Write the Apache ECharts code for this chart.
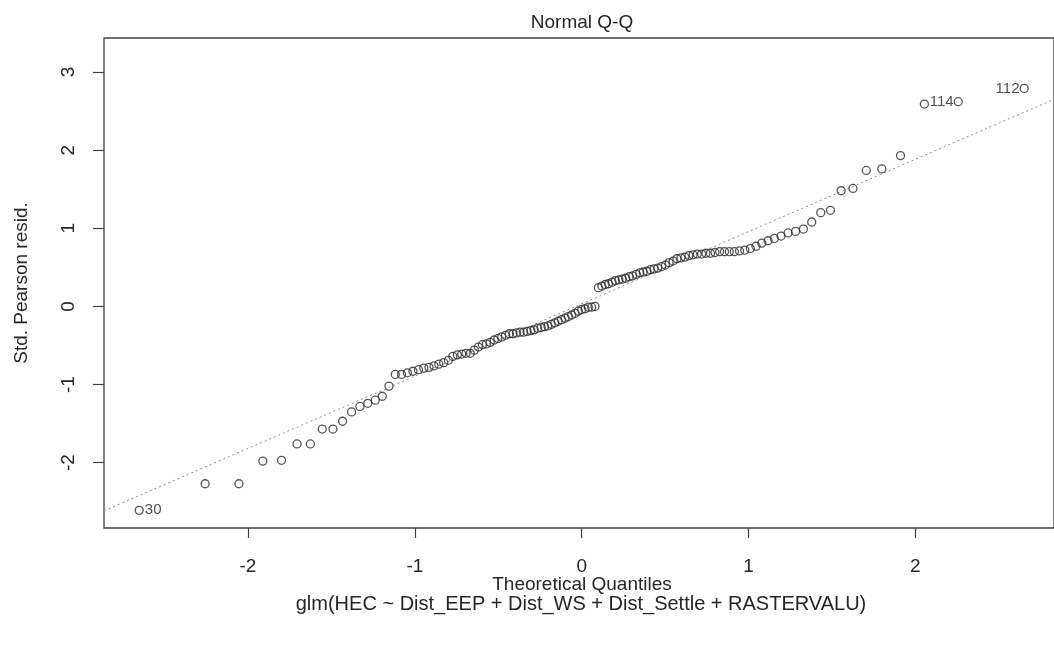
<!DOCTYPE html>
<html>
<head>
<meta charset="utf-8">
<script src="https://cdn.jsdelivr.net/npm/echarts@6/dist/echarts.min.js"></script>
<style>html,body{margin:0;padding:0;background:#fff;}#c{width:1054px;height:654px;}</style>
</head>
<body>
<div id="c"></div>
<script>
// Theoretical quantiles (x) of the 125 observations
const theoQuantiles = [
 -2.652,-2.257,-2.054,-1.911,-1.799,-1.706,-1.626,-1.555,-1.491,-1.433,
 -1.379,-1.329,-1.282,-1.237,-1.195,-1.155,-1.117,-1.080,-1.045,-1.011,
 -0.978,-0.946,-0.915,-0.885,-0.856,-0.827,-0.799,-0.772,-0.745,-0.719,
 -0.693,-0.668,-0.643,-0.619,-0.595,-0.571,-0.548,-0.524,-0.502,-0.479,
 -0.456,-0.434,-0.412,-0.391,-0.369,-0.348,-0.327,-0.305,-0.285,-0.264,
 -0.243,-0.223,-0.202,-0.182,-0.161,-0.141,-0.121,-0.100,-0.080,-0.060,
 -0.040,-0.020,0.000,
 0.020,0.040,0.060,0.080,0.100,0.121,0.141,0.161,0.182,0.202,
 0.223,0.243,0.264,0.285,0.305,0.327,0.348,0.369,0.391,0.412,
 0.434,0.456,0.479,0.502,0.524,0.548,0.571,0.595,0.619,0.643,
 0.668,0.693,0.719,0.745,0.772,0.799,0.827,0.856,0.885,0.915,
 0.946,0.978,1.011,1.045,1.080,1.117,1.155,1.195,1.237,1.282,
 1.329,1.379,1.433,1.491,1.555,1.626,1.706,1.799,1.911,2.054,
 2.257,2.652
];
// Sorted standardized Pearson residuals (y)
const stdPearsonResid = [
 -2.61,-2.27,-2.27,-1.98,-1.97,-1.76,-1.76,-1.57,-1.57,-1.47,
 -1.35,-1.28,-1.24,-1.20,-1.15,-1.02,-0.87,-0.87,-0.85,-0.83,
 -0.81,-0.79,-0.78,-0.76,-0.74,-0.72,-0.69,-0.64,-0.62,-0.61,
 -0.60,-0.60,-0.56,-0.52,-0.49,-0.48,-0.46,-0.43,-0.41,-0.39,
 -0.37,-0.35,-0.35,-0.34,-0.33,-0.33,-0.32,-0.31,-0.30,-0.28,
 -0.27,-0.26,-0.25,-0.23,-0.21,-0.19,-0.17,-0.15,-0.13,-0.11,
 -0.09,-0.06,-0.04,
 -0.03,-0.01,-0.01,0.00,0.24,0.26,0.28,0.29,0.31,0.33,
 0.34,0.35,0.36,0.38,0.39,0.41,0.43,0.44,0.45,0.47,
 0.48,0.49,0.51,0.53,0.56,0.58,0.61,0.62,0.63,0.65,
 0.66,0.67,0.67,0.68,0.68,0.69,0.70,0.70,0.70,0.70,
 0.71,0.72,0.74,0.77,0.81,0.84,0.87,0.90,0.94,0.96,
 0.99,1.08,1.20,1.23,1.48,1.51,1.74,1.76,1.93,2.59,
 2.62,2.79
];
// Labelled (extreme) observations: index in sorted order -> observation id
const idIndex = [0, 123, 124];
const idLabels = ['30', '114', '112'];
// Reference (qqline) intercept and slope
const qqIntercept = 0.032;
const qqSlope = 0.925;
// Tick values
const xTicks = [-2, -1, 0, 1, 2];
const yTicks = [-2, -1, 0, 1, 2, 3];
const xMin = -2.863, xMax = 2.831;
const yMin = -2.836, yMax = 3.435;

const FONT = "'Liberation Sans', Arial, sans-serif";
const TXT = '#262626';

const pts = theoQuantiles.map((q, i) => {
  const k = idIndex.indexOf(i);
  const item = { value: [q, stdPearsonResid[i]] };
  if (k >= 0) {
    item.label = {
      show: true,
      formatter: idLabels[k],
      position: i === 0 ? 'right' : 'left',
      distance: i === 0 ? 1 : 0,
      fontSize: 15,
      color: TXT,
      fontFamily: FONT
    };
  }
  return item;
});

const chart = echarts.init(document.getElementById('c'), null, { renderer: 'canvas' });
chart.setOption({
  animation: false,
  backgroundColor: '#fff',
  grid: {
    left: 104, top: 38, width: 952, height: 490,
    show: true, borderColor: '#404040', borderWidth: 1.3, backgroundColor: 'transparent'
  },
  xAxis: {
    type: 'value', min: xMin, max: xMax,
    axisLine: { show: false, onZero: false },
    splitLine: { show: false },
    axisTick: { show: true, length: 10, lineStyle: { color: '#404040', width: 1.2 }, customValues: xTicks },
    axisLabel: { customValues: xTicks, margin: 29, fontSize: 19, color: TXT, fontFamily: FONT,
      formatter: v => String(v) }
  },
  yAxis: {
    type: 'value', min: yMin, max: yMax,
    axisLine: { show: false, onZero: false },
    splitLine: { show: false },
    axisTick: { show: true, length: 11, lineStyle: { color: '#404040', width: 1.2 }, customValues: yTicks },
    axisLabel: { customValues: yTicks, rotate: 90, margin: 26, fontSize: 19, color: TXT, fontFamily: FONT,
      formatter: v => String(v) }
  },
  graphic: [
    { type: 'text', x: 582, y: 13, style: { text: 'Normal Q-Q', align: 'center', fontSize: 19, fill: TXT, fontFamily: FONT } },
    { type: 'text', x: 582, y: 575, style: { text: 'Theoretical Quantiles', align: 'center', fontSize: 19, fill: TXT, fontFamily: FONT } },
    { type: 'text', x: 581, y: 594, style: { text: 'glm(HEC ~ Dist_EEP + Dist_WS + Dist_Settle + RASTERVALU)', align: 'center', fontSize: 20, fill: TXT, fontFamily: FONT } },
    { type: 'text', x: 12, y: 283, rotation: Math.PI / 2, style: { text: 'Std. Pearson resid.', align: 'center', fontSize: 19, fill: TXT, fontFamily: FONT } }
  ],
  series: [
    {
      type: 'line',
      data: [[xMin, qqIntercept + qqSlope * xMin], [xMax, qqIntercept + qqSlope * xMax]],
      symbol: 'none',
      lineStyle: { color: '#8a8a8a', width: 1, type: [2, 3] },
      silent: true, z: 1
    },
    {
      type: 'scatter',
      data: pts,
      symbol: 'circle',
      symbolSize: 8,
      itemStyle: { color: 'rgba(255,255,255,0)', borderColor: '#2a2a2a', borderWidth: 1.3 },
      z: 2
    }
  ]
});
</script>
</body>
</html>
